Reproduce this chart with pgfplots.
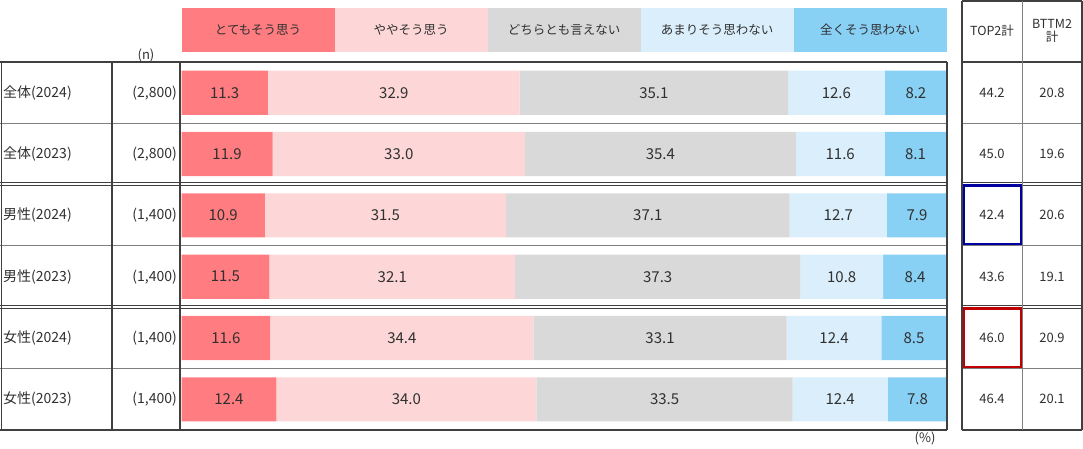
\documentclass[border=0pt]{standalone}
\usepackage{pgfplots}
\pgfplotsset{compat=1.18}
\usepackage{pgfplotstable}
\usepackage{fontspec}
\setmainfont{Noto Sans CJK JP}
\definecolor{c1}{HTML}{FF7C80}
\definecolor{c2}{HTML}{FDD7D7}
\definecolor{c3}{HTML}{D9D9D9}
\definecolor{c4}{HTML}{DAEFFB}
\definecolor{c5}{HTML}{89D0F5}
\definecolor{tx}{HTML}{303030}
\definecolor{ln}{HTML}{404040}
\definecolor{lg}{HTML}{7F7F7F}
\definecolor{bx1}{HTML}{0000A0}
\definecolor{bx2}{HTML}{C00000}
\pgfplotstableread{
r a b c d e
1 11.3 32.9 35.1 12.6 8.2
2 11.9 33.0 35.4 11.6 8.1
3 10.9 31.5 37.1 12.7 7.9
4 11.5 32.1 37.3 10.8 8.4
5 11.6 34.4 33.1 12.4 8.5
6 12.4 34.0 33.5 12.4 7.8
}\data
\begin{document}
\begin{tikzpicture}
\useasboundingbox (0pt,0pt) rectangle (1083pt,448pt);
\begin{axis}[at={(181.5pt,18pt)}, anchor=south west, scale only axis,
  width=765pt, height=368pt, xmin=0, xmax=100, ymin=0.5, ymax=6.5,
  y dir=reverse, hide axis, xbar stacked, bar width=0.72, clip=false,
  point meta=explicit,
  nodes near coords={\pgfmathprintnumber[fixed,fixed zerofill,precision=1,assume math mode=true]{\pgfplotspointmeta}},
  every node near coord/.append style={anchor=center, font=\fontsize{15}{15}\selectfont, text=tx},
  ]
\addplot[fill=c1, draw=none] table[x=a,y=r,meta=a]{\data};
\addplot[fill=c2, draw=none] table[x=b,y=r,meta=b]{\data};
\addplot[fill=c3, draw=none] table[x=c,y=r,meta=c]{\data};
\addplot[fill=c4, draw=none] table[x=d,y=r,meta=d]{\data};
\addplot[fill=c5, draw=none] table[x=e,y=r,meta=e]{\data};
\end{axis}
\begin{scope}[x=1pt,y=-1pt,yshift=448pt]
% legend
\foreach \c/\t [count=\i from 0] in {c1/とてもそう思う,c2/ややそう思う,c3/どちらとも言えない,c4/あまりそう思わない,c5/全くそう思わない}{
  \fill[\c] (181.5+153*\i,8) rectangle (181.5+153*\i+153,52);
  \node[font=\fontsize{12.5}{12.5}\selectfont, text=tx] at (181.5+153*\i+76.5,30) {\t};
}
% left table text
\node[font=\fontsize{13}{13}\selectfont, text=tx] at (146,55) {(n)};
\foreach \lab/\n/\tp/\bt [count=\i] in {全体(2024)/(2{,}800)/44.2/20.8, 全体(2023)/(2{,}800)/45.0/19.6, 男性(2024)/(1{,}400)/42.4/20.6, 男性(2023)/(1{,}400)/43.6/19.1, 女性(2024)/(1{,}400)/46.0/20.9, 女性(2023)/(1{,}400)/46.4/20.1}{
  \pgfmathsetmacro{\yc}{62+61.33*(\i-0.5)}
  \node[anchor=west, font=\fontsize{14}{14}\selectfont, text=tx, inner sep=0] at (3,\yc) {\lab};
  \node[anchor=east, font=\fontsize{14}{14}\selectfont, text=tx, inner sep=0] at (177,\yc) {\n};
  \node[font=\fontsize{13}{13}\selectfont, text=tx] at (992,\yc) {\tp};
  \node[font=\fontsize{13}{13}\selectfont, text=tx] at (1052,\yc) {\bt};
}
\node[font=\fontsize{12.5}{12.5}\selectfont, text=tx] at (992,31) {TOP2計};
\node[font=\fontsize{12.5}{13.5}\selectfont, text=tx, align=center] at (1052,31) {BTTM2\\計};
\node[font=\fontsize{13}{13}\selectfont, text=tx] at (925,438) {(\%)};
% horizontal lines
\foreach \xa/\xb in {0/947, 962/1082}{
  \draw[ln, line width=1.2pt] (\xa,62) -- (\xb,62);
  \draw[ln, line width=1.2pt] (\xa,430) -- (\xb,430);
  \foreach \yy in {123,245.5,368.5} \draw[lg, line width=0.9pt] (\xa,\yy) -- (\xb,\yy);
  \foreach \yy in {184,307} {\draw[ln, line width=0.8pt] (\xa,\yy-1.3) -- (\xb,\yy-1.3);
                             \draw[ln, line width=0.8pt] (\xa,\yy+1.3) -- (\xb,\yy+1.3);}
}
\draw[ln, line width=1.2pt] (962,1) -- (1082,1);
% vertical lines
\draw[ln, line width=1pt] (1,62) -- (1,430);
\draw[ln, line width=2pt] (112,62) -- (112,430);
\draw[ln, line width=2pt] (180,62) -- (180,430);
\draw[ln, line width=1.2pt] (947,62) -- (947,430);
\draw[ln, line width=1.2pt] (962,1) -- (962,430);
\draw[lg, line width=0.9pt] (1022,1) -- (1022,430);
\draw[ln, line width=1.2pt] (1082,1) -- (1082,430);
% highlight boxes
\draw[bx1, line width=2.6pt] (964,185.5) rectangle (1021,244);
\draw[bx2, line width=2.6pt] (964,308.5) rectangle (1021,367);
\end{scope}
\end{tikzpicture}
\end{document}
